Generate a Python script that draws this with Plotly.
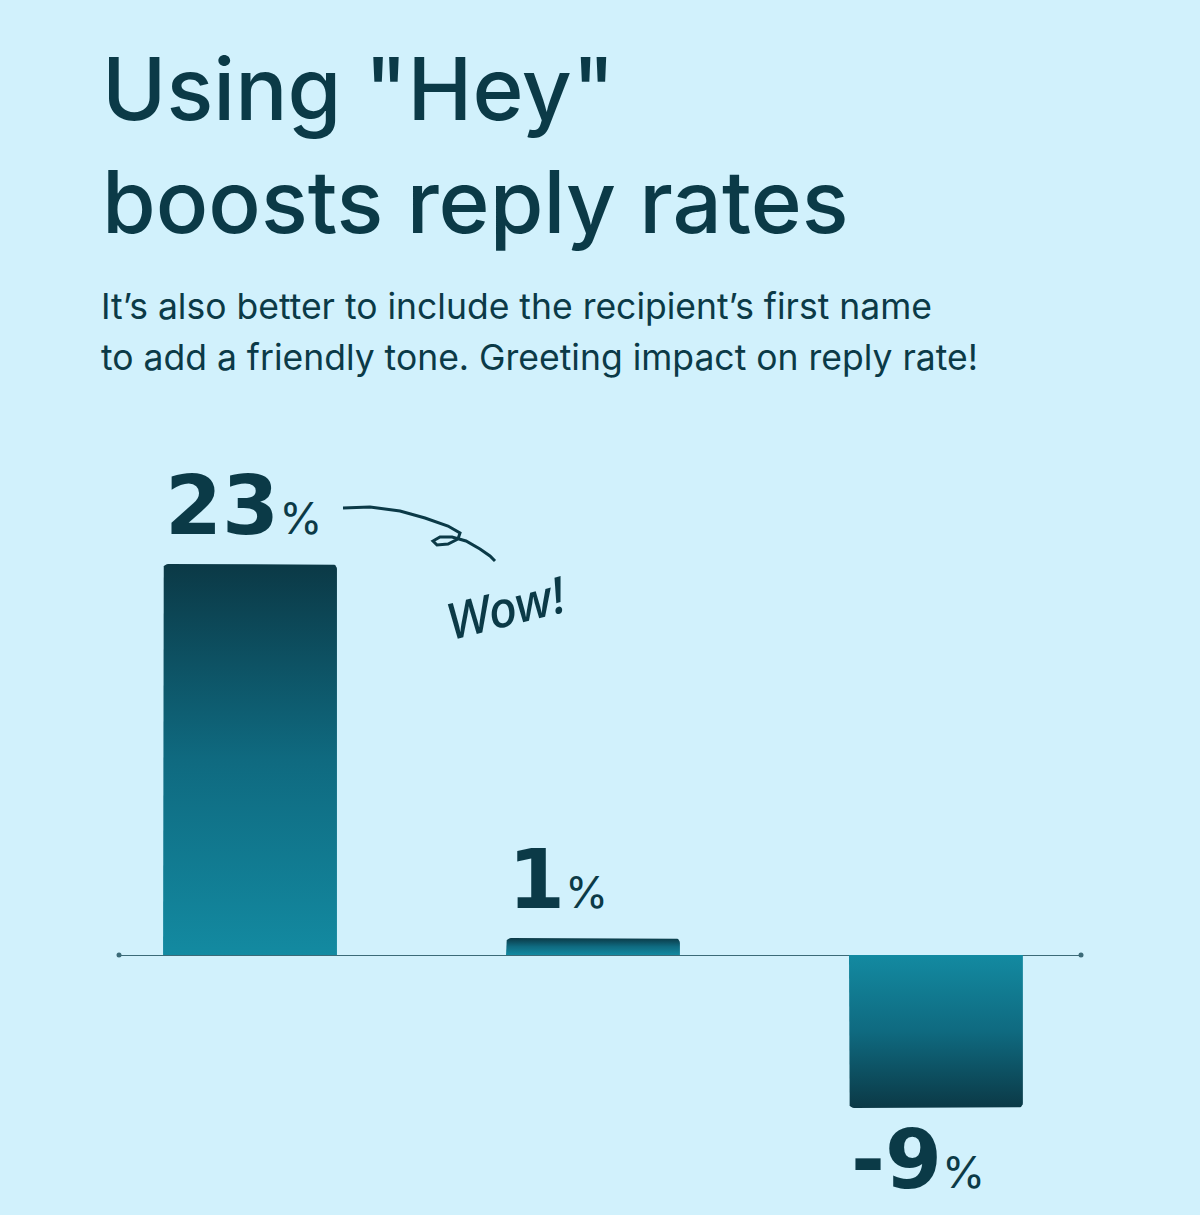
import math
import plotly.graph_objects as go

# data
greetings = ["Hey", "Hi", "Hello"]
reply_lift = [23, 1, -9]
lift_labels = ["23", "1", "-9"]

BG = "#d1f1fc"
INK = "#0b3a47"
LIGHT = "#138aa1"
MID = "#0f6a80"
DARK = "#0b3946"

W, H = 1200, 1215
ML, MR, MT, MB = 119, 119, 445, 22
PW, PH = W - ML - MR, H - MT - MB
XR = [-0.382, 2.423]
YR = [-14, 30]
BAR_W = 0.507
RADIUS_PX = 5


def paper(xpx, ypx):
    # pixel position in the page -> paper coordinates
    return (xpx - ML) / PW, (H - MB - ypx) / PH


def path_px(points):
    out = []
    for i, (a, b) in enumerate(points):
        x, y = paper(a, b)
        out.append(("M" if i == 0 else "L") + f"{x:.5f},{y:.5f}")
    return " ".join(out)


def bar_outline(i, v):
    # rectangle from 0 to v with the far corners rounded
    x0, x1 = i - BAR_W / 2, i + BAR_W / 2
    rx = RADIUS_PX * (XR[1] - XR[0]) / PW
    ry = RADIUS_PX * (YR[1] - YR[0]) / PH
    s = 1 if v >= 0 else -1
    xs, ys = [x0], [0]
    for k in range(7):
        a = math.pi - k * math.pi / 12
        xs.append(x0 + rx + rx * math.cos(a))
        ys.append(v - s * ry + s * ry * math.sin(a))
    for k in range(7):
        a = math.pi / 2 - k * math.pi / 12
        xs.append(x1 - rx + rx * math.cos(a))
        ys.append(v - s * ry + s * ry * math.sin(a))
    xs += [x1, x0]
    ys += [0, 0]
    return xs, ys


fig = go.Figure()

for i, v in enumerate(reply_lift):
    xs, ys = bar_outline(i, v)
    if v >= 0:
        cs = [[0, LIGHT], [0.5, MID], [1, DARK]]
    else:
        cs = [[0, DARK], [0.5, MID], [1, LIGHT]]
    fig.add_trace(go.Scatter(
        x=xs, y=ys,
        mode="lines", fill="toself", line=dict(width=0),
        fillgradient=dict(type="vertical", colorscale=cs,
                          start=min(0, v), stop=max(0, v)),
        hoverinfo="text", text=f"{greetings[i]}: {v}%", showlegend=False,
    ))

    label = (f"<span style='font-family:DejaVu Sans;font-size:82px'><b>{lift_labels[i]}</b></span>"
             f"<span style='font-size:44px'>%</span>")
    fig.add_annotation(
        x=i - BAR_W / 2, y=v, xref="x", yref="y", text=label, showarrow=False,
        xanchor="left", yanchor="bottom" if v >= 0 else "top",
        yshift=9 if v >= 0 else -2,
        font=dict(family="Inter", size=44, color=INK),
    )

# baseline end dots
fig.add_trace(go.Scatter(
    x=XR, y=[0, 0], mode="markers", marker=dict(size=5, color="#3c6b78"),
    cliponaxis=False, hoverinfo="skip", showlegend=False,
))

# title + subtitle
tx, ty = paper(100, 34)
fig.add_annotation(
    x=tx, y=ty, xref="paper", yref="paper", xanchor="left", yanchor="top",
    text='Using "Hey"<br>boosts reply rates', showarrow=False, align="left",
    font=dict(family="Inter", size=87, color=INK, weight=500),
)
for j, line in enumerate(["It’s also better to include the recipient’s first name",
                          "to add a friendly tone. Greeting impact on reply rate!"]):
    sx, sy = paper(99, 283 + j * 51)
    fig.add_annotation(
        x=sx, y=sy, xref="paper", yref="paper", xanchor="left", yanchor="top",
        text=line, showarrow=False, align="left",
        font=dict(family="Inter", size=35.5, color=INK),
    )

# hand-drawn "Wow!" note
wx, wy = paper(506, 607)
fig.add_annotation(
    x=wx, y=wy, xref="paper", yref="paper", text="Wow!", showarrow=False,
    xanchor="center", yanchor="middle",
    textangle=-14, font=dict(family="Noto Sans", size=50, color=INK, style="italic", weight=500),
)
squiggle = [(343, 508), (370, 507), (400, 511), (425, 518), (448, 526), (460, 533),
            (458, 539), (448, 544), (437, 545), (433, 541), (440, 537), (452, 537),
            (466, 541), (480, 549), (490, 556), (495, 561)]
fig.add_shape(type="path", path=path_px(squiggle), xref="paper", yref="paper",
              line=dict(color=INK, width=3))

fig.update_xaxes(range=XR, visible=False, fixedrange=True)
fig.update_yaxes(range=YR, showgrid=False, showticklabels=False, ticks="",
                 zeroline=True, zerolinecolor="#3c6b78", zerolinewidth=1, fixedrange=True)
fig.update_layout(
    width=W, height=H, margin=dict(l=ML, r=MR, t=MT, b=MB),
    paper_bgcolor=BG, plot_bgcolor=BG,
    hovermode="closest",
)

fig.write_html("out.html", config={"displayModeBar": False},
               post_script="document.body.style.margin='0';")
